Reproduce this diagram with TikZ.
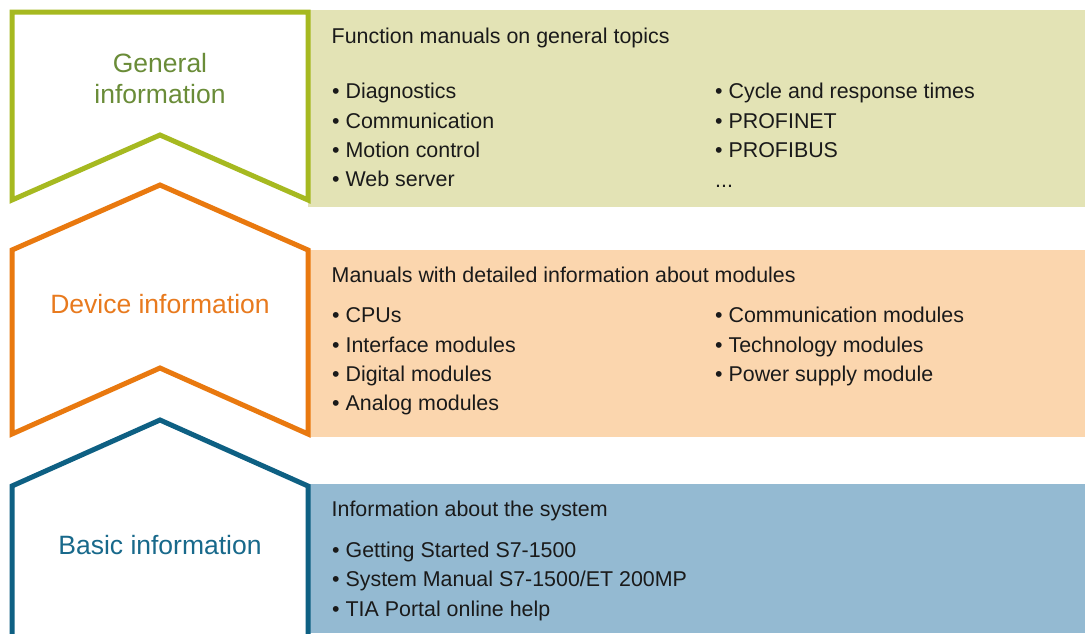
\documentclass[tikz,border=0pt]{standalone}
\usepackage{fontspec}
\setmainfont{Liberation Sans}
\definecolor{genline}{HTML}{A6B920}
\definecolor{gentext}{HTML}{6A8C38}
\definecolor{genfill}{HTML}{E3E3B5}
\definecolor{devline}{HTML}{E9790F}
\definecolor{devtext}{HTML}{E87A1E}
\definecolor{devfill}{HTML}{FBD6AE}
\definecolor{basline}{HTML}{0E6083}
\definecolor{bastext}{HTML}{18698B}
\definecolor{basfill}{HTML}{94BAD2}
\definecolor{ink}{HTML}{1A1A1A}
\begin{document}
\begin{tikzpicture}[x=1pt,y=-1pt,
    frame/.style={line width=5pt,line join=miter},
    label/.style={anchor=base,inner sep=0pt,align=center,font=\fontsize{26.5}{31.5}\selectfont},
    item/.style={anchor=base west,inner sep=0pt,text=ink,font=\fontsize{21.4}{25}\selectfont}]
    \useasboundingbox[fill=white] (0,0) rectangle (1085,633);
    % panels
    \fill[genfill] (308,10) rectangle (1085,207);
    \fill[devfill] (308,250) rectangle (1085,437);
    \fill[basfill] (308,484) rectangle (1085,633);
    % chevrons
    \draw[frame,genline] (12,12) -- (308,12) -- (308,200) -- (160,135) -- (12,200) -- cycle;
    \draw[frame,devline] (12,250) -- (160,185) -- (308,250) -- (308,434) -- (160,368) -- (12,434) -- cycle;
    \draw[frame,basline] (12,645) -- (12,486) -- (160,420) -- (308,486) -- (308,645);
    \node[label,text=gentext] (gen) at (160,103.5) {General\\information};
    \node[label,text=devtext] (dev) at (160,313) {Device information};
    \node[label,text=bastext] (bas) at (160,554) {Basic information};
    % general topics
    \node[item] (g0) at (331.5,43) {Function manuals on general topics};
    \node[item] (g1) at (332,98) {• Diagnostics};
    \node[item] (g2) at (332,128) {• Communication};
    \node[item] (g3) at (332,157) {• Motion control};
    \node[item] (g4) at (332,186) {• Web server};
    \node[item] (g5) at (715,98) {• Cycle and response times};
    \node[item] (g6) at (715,128) {• PROFINET};
    \node[item] (g7) at (715,157) {• PROFIBUS};
    \node[item] (g8) at (715,187) {...};
    % modules
    \node[item] (d0) at (331.5,282) {Manuals with detailed information about modules};
    \node[item] (d1) at (332,322) {• CPUs};
    \node[item] (d2) at (332,352) {• Interface modules};
    \node[item] (d3) at (332,381) {• Digital modules};
    \node[item] (d4) at (332,410) {• Analog modules};
    \node[item] (d5) at (715,322) {• Communication modules};
    \node[item] (d6) at (715,352) {• Technology modules};
    \node[item] (d7) at (715,381) {• Power supply module};
    % system
    \node[item] (b0) at (331.5,516) {Information about the system};
    \node[item] (b1) at (332,557) {• Getting Started S7-1500};
    \node[item] (b2) at (332,586) {• System Manual S7-1500/ET 200MP};
    \node[item] (b3) at (332,616) {• TIA Portal online help};
\end{tikzpicture}
\end{document}
